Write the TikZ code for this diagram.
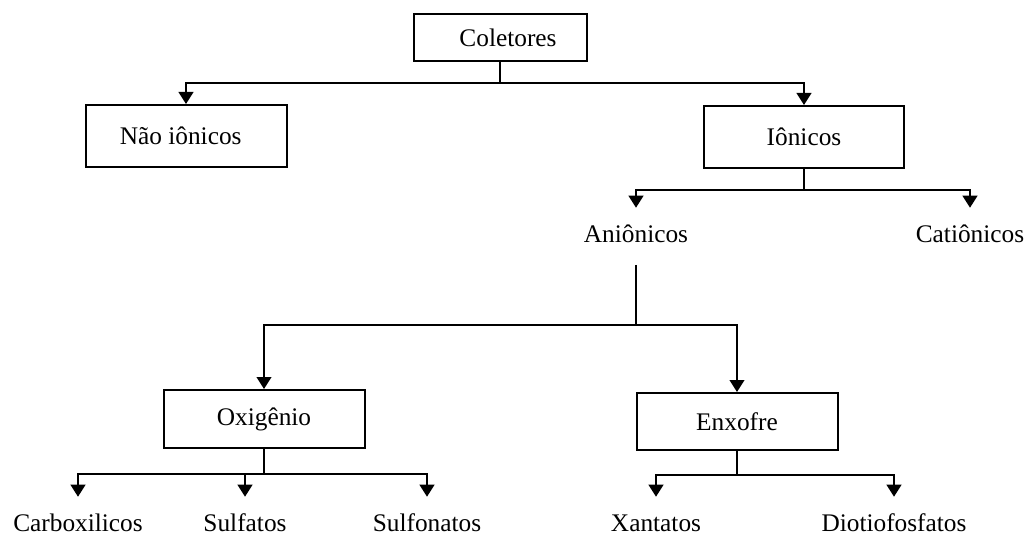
\documentclass[tikz,border=0pt]{standalone}
\usepackage{fontspec}
\setmainfont{Liberation Serif}
\usetikzlibrary{arrows.meta}
\begin{document}
\begin{tikzpicture}[x=0.75pt,y=-0.75pt,
  every node/.style={font=\fontsize{19}{22}\selectfont},
  box/.style={draw, line width=1.5pt, inner sep=0pt},
  lbl/.style={inner sep=0pt, anchor=base, text height=25.5pt, text depth=0pt},
  conn/.style={line width=1.5pt},
  arr/.style={line width=1.5pt, -{Triangle[width=11pt,length=9pt]}}]
\useasboundingbox (0,0) rectangle (1029,535);
% boxes
\node[box, minimum width=129.75pt, minimum height=35.25pt] (col) at (500,37.5) {\hspace*{12pt}Coletores};
\node[box, minimum width=150.75pt, minimum height=46.5pt] (nao) at (186,136) {Não iônicos\hspace*{8pt}};
\node[box, minimum width=150pt, minimum height=46.5pt] (ion) at (804,137) {Iônicos};
\node[box, minimum width=150.75pt, minimum height=43.5pt] (oxi) at (264,419) {Oxigênio};
\node[box, minimum width=150.75pt, minimum height=42.75pt] (enx) at (737,421.5) {Enxofre};
% labels
\node[lbl, text depth=17pt] (ani) at (636,242) {Aniônicos};
\node[lbl] (cat) at (970,242) {Catiônicos};
\node[lbl] (carb) at (78,531) {Carboxilicos};
\node[lbl] (sulfa) at (245,531) {Sulfatos};
\node[lbl] (sulfo) at (427,531) {Sulfonatos};
\node[lbl] (xan) at (656,531) {Xantatos};
\node[lbl] (dio) at (894,531) {Diotiofosfatos};
% junctions
\coordinate (j1) at (500,83);
\coordinate (j2) at (804,190);
\coordinate (j3) at (636,325);
\coordinate (j4) at (264,474);
\coordinate (j5) at (737,475);
% connectors
\draw[conn] (col.south) -- (j1);
\draw[arr] (j1) -| (nao.north);
\draw[arr] (j1) -| (ion.north);
\draw[conn] (ion.south) -- (j2);
\draw[arr] (j2) -| (ani.north);
\draw[arr] (j2) -| (cat.north);
\draw[conn] (ani.south) -- (j3);
\draw[arr] (j3) -| (oxi.north);
\draw[arr] (j3) -| (enx.north);
\draw[conn] (oxi.south) -- (j4);
\draw[arr] (j4) -| (carb.north);
\draw[arr] (j4) -| (sulfa.north);
\draw[arr] (j4) -| (sulfo.north);
\draw[conn] (enx.south) -- (j5);
\draw[arr] (j5) -| (xan.north);
\draw[arr] (j5) -| (dio.north);
\end{tikzpicture}
\end{document}
